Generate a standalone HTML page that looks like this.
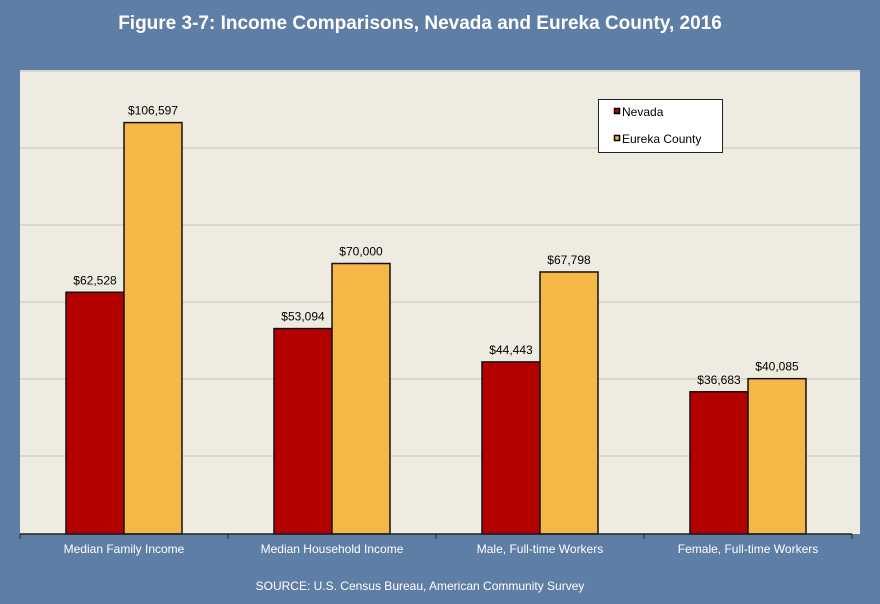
<!DOCTYPE html>
<html><head><meta charset="utf-8"><style>
html,body{margin:0;padding:0;background:#5f7ea6;width:880px;height:604px;overflow:hidden}
svg{display:block;font-family:"Liberation Sans",Arial,sans-serif}
</style></head><body>
<svg width="880" height="604">
<rect width="880" height="604" fill="#5f7ea6"/>
<text x="420" y="29" text-anchor="middle" fill="#fff" font-size="19" font-weight="bold">Figure 3-7: Income Comparisons, Nevada and Eureka County, 2016</text>
<rect x="20" y="70" width="840" height="464" fill="#eeebe1"/>
<g id="grid"></g>
<g id="bars"></g>
<g id="labels"></g>
<line x1="20" y1="534" x2="852" y2="534" stroke="#222" stroke-width="1.5"/>
<g id="xaxis"></g>
<g>
<rect x="598.5" y="99.5" width="124" height="53" fill="#fff" stroke="#222"/>
<rect x="614.5" y="108.5" width="5" height="5" fill="#b50000" stroke="#000" stroke-width="1.5"/>
<text x="622" y="116" font-size="12" fill="#000">Nevada</text>
<rect x="614.5" y="135.5" width="5" height="5" fill="#f5b846" stroke="#000" stroke-width="1.5"/>
<text x="622" y="143" font-size="12" fill="#000">Eureka County</text>
</g>
<text x="420" y="590" text-anchor="middle" fill="#fff" font-size="12">SOURCE: U.S. Census Bureau, American Community Survey</text>
</svg>
<script>
const categories = ["Median Family Income","Median Household Income","Male, Full-time Workers","Female, Full-time Workers"];
const nevada = [62528, 53094, 44443, 36683];
const eureka = [106597, 70000, 67798, 40085];
const yTicks = [0, 20000, 40000, 60000, 80000, 100000, 120000];
const NS = "http://www.w3.org/2000/svg";
const x0 = 20, catW = 208, y0 = 533, yMax = 120000, yTop = 71, barW = 58;
function y(v){ return y0 - v / yMax * (y0 - yTop); }
function cx(i){ return x0 + catW * i + catW / 2; }
function mk(tag, attrs, parent){ const e = document.createElementNS(NS, tag); for (const k in attrs) e.setAttribute(k, attrs[k]); document.getElementById(parent).appendChild(e); return e; }
yTicks.forEach(t => {
  if (t === 0) return;
  const l = mk("line", {x1: 20, x2: 860, y1: y(t), y2: y(t), stroke: "#c4c1b8", "stroke-width": 1}, "grid");
  
  
});
function fmt(v){ return "$" + v.toLocaleString("en-US"); }
categories.forEach((c, i) => {
  const series = [[nevada[i], "#b50000", cx(i) - barW, "nevada"], [eureka[i], "#f5b846", cx(i), "eureka"]];
  series.forEach(s => {
    const r = mk("rect", {x: s[2], y: y(s[0]), width: barW, height: y0 - y(s[0]) + 1, fill: s[1], stroke: "#111", "stroke-width": 1.5}, "bars");
    
    
    const t = mk("text", {x: s[2] + barW / 2, y: y(s[0]) - 8, "text-anchor": "middle", "font-size": 12, fill: "#000"}, "labels");
    t.textContent = fmt(s[0]);
    
    
  });
  const xl = mk("text", {x: cx(i), y: 553, "text-anchor": "middle", "font-size": 12, fill: "#fff"}, "xaxis");
  xl.textContent = c;
  
  
});
for (let i = 0; i <= categories.length; i++) {
  const tk = mk("line", {x1: x0 + catW * i, x2: x0 + catW * i, y1: 534, y2: 539, stroke: "#222", "stroke-width": 1}, "xaxis");
  
  
}
</script>
</body></html>
